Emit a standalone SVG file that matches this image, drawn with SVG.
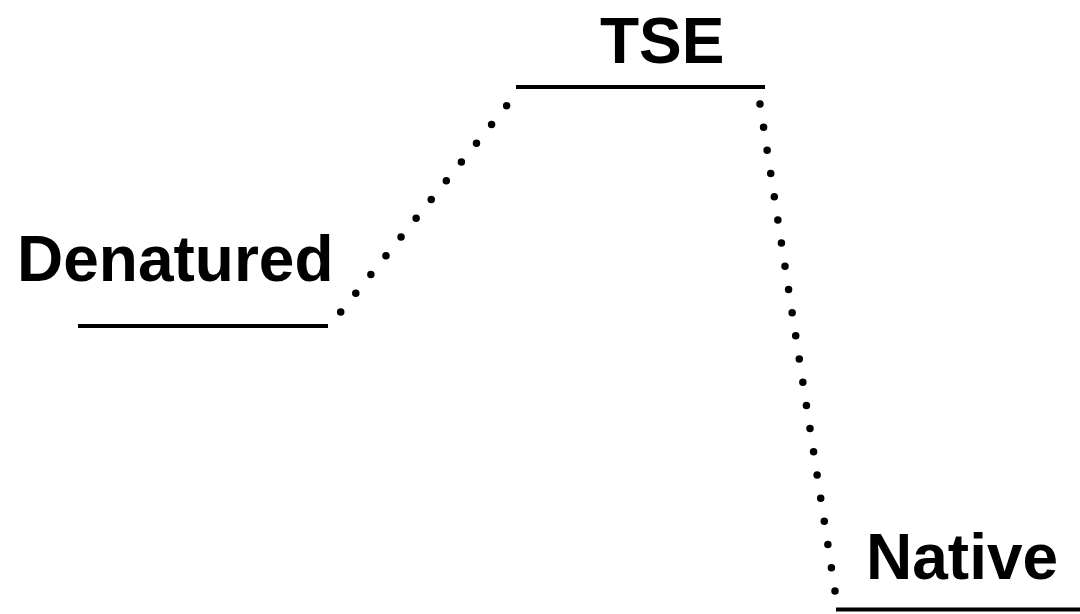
<svg xmlns="http://www.w3.org/2000/svg" width="1080" height="614" viewBox="0 0 1080 614">
  <style>
    .lvl { stroke: #000; stroke-width: 4; fill: none; }
    .lbl { font-family: "Liberation Sans", Arial, Helvetica, sans-serif; font-weight: bold; font-size: 64px; fill: #000; }
    .dot { stroke: #000; stroke-width: 7.5; stroke-linecap: round; fill: none; }
  </style>
  <rect width="1080" height="614" fill="#fff"/>
  <g id="connectors">
    <path class="dot" d="M340.7,312 L521.7,87" stroke-dasharray="0 24.07"/>
    <path class="dot" d="M760,104 L835,591" stroke-dasharray="0 23.46"/>
  </g>
  <g id="denatured">
    <line class="lvl" x1="78" y1="326" x2="328" y2="326"/>
    <text class="lbl" x="17" y="281">Denatured</text>
  </g>
  <g id="tse">
    <line class="lvl" x1="516" y1="87" x2="765" y2="87"/>
    <text class="lbl" x="600" y="63">TSE</text>
  </g>
  <g id="native">
    <line class="lvl" x1="836" y1="609.5" x2="1080" y2="609.5"/>
    <text class="lbl" x="866" y="579">Native</text>
  </g>
</svg>
